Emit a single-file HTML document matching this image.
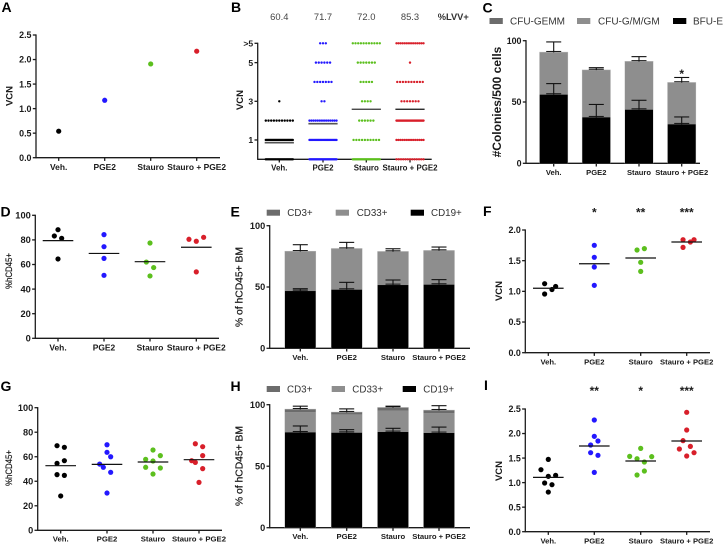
<!DOCTYPE html>
<html lang="en">
<head>
<meta charset="utf-8">
<title>Multi-panel VCN and engraftment figure</title>
<style>
html,body{margin:0;padding:0;background:#fff;width:724px;height:545px;overflow:hidden}
svg{display:block;font-family:"Liberation Sans",sans-serif;filter:blur(0.35px)}
</style>
</head>
<body>
<svg id="figure" xmlns="http://www.w3.org/2000/svg" width="724" height="545" viewBox="0 0 724 545"></svg>
<script>
const categories = ['Veh.', 'PGE2', 'Stauro', 'Stauro + PGE2'];
const groupColors = ['#000000', '#2318ff', '#5cbf1e', '#d81f2a'];

const aTicks = [0, 0.5, 1, 1.5, 2, 2.5];
const aTickLabels = ['0.0', '0.5', '1.0', '1.5', '2.0', '2.5'];
const aValues = [0.54, 1.17, 1.91, 2.17];

const bLevels = [0, 1, 2, 3, 4, 5, 6];
const bTicks = [1, 3, 5, 6];
const bTickLabels = ['1', '3', '5', '>5'];
const bCounts = [
  [25, 30, 11, 1, 0, 0, 0],
  [30, 25, 14, 2, 7, 6, 3],
  [28, 10, 6, 4, 5, 7, 11],
  [13, 14, 30, 7, 10, 1, 14]
];
const bMeans = [0.86, 1.84, 2.59, 2.59];
const bHeader = ['60.4', '71.7', '72.0', '85.3'];

const cTicks = [0, 50, 100];
const cSeriesNames = ['CFU-GEMM', 'CFU-G/M/GM', 'BFU-E'];
const cBottom = [56, 37.5, 43.7, 31.8];
const cMiddle = [34.5, 38.5, 39.3, 34];
const cTop = [0, 0, 0, 0];
const cErrBottom = [9, 10.5, 7.7, 6];
const cErrTotal = [8.5, 2, 4, 4.2];

const dTicks = [0, 20, 40, 60, 80, 100];
const dValues = [[88.3, 83.2, 81.3, 64.5], [84.3, 74.5, 65, 51.2], [77.5, 62, 57.5, 50.7], [80.5, 78.9, 82.1, 54]];
const dSlots = [[0, -1, 1, 0], [0, 0, 0, 0], [0, -1, 1, 0], [-2, 0, 2, 0]];
const dMeans = [79.4, 69, 62.3, 74];

const eTicks = [0, 50, 100];
const eSeriesNames = ['CD3+', 'CD33+', 'CD19+'];
const eBottom = [46.7, 47.8, 51.6, 51.9];
const eMiddle = [32, 33, 27, 27.4];
const eTop = [0.3, 0.4, 0.2, 0.3];
const eErrBottom = [1.9, 6, 4.1, 4.1];
const eErrTotal = [5.5, 5.2, 2.4, 3];

const fTicks = [0, 0.5, 1, 1.5, 2];
const fTickLabels = ['0.0', '0.5', '1.0', '1.5', '2.0'];
const fValues = [[1.125, 1.03, 1.08, 0.957], [1.75, 1.555, 1.397, 1.098], [1.674, 1.696, 1.473, 1.326], [1.842, 1.717, 1.804, 1.842]];
const fSlots = [[-1, 1, 2, -1], [0, 0, 0, 0], [-1, 1, 0, 0], [-1, -1, 1, 2]];
const fMeans = [1.05, 1.45, 1.543, 1.804];
const fStars = ['', '*', '**', '***'];

const gTicks = [0, 20, 40, 60, 80, 100];
const gValues = [
  [69, 67.7, 54.6, 56.8, 45.4, 44.8, 28],
  [69.8, 63.6, 60, 54, 51.4, 47.3, 30.4],
  [65.5, 57.9, 60.9, 56.5, 51.4, 50.8, 45.9],
  [70.6, 68.2, 60.9, 56.8, 55.4, 50.3, 39.1]
];
const gSlots = [[-1, 1, -1, 1, -1, 1, 0], [0, 0, 1, -2, -1, 1, 0], [0, -2, 2, 0, -2, 2, 0], [-1, 1, 1, -2, -1, 1, 0]];
const gMeans = [52.7, 53.8, 55.7, 57.6];

const hTicks = [0, 50, 100];
const hBottom = [77.5, 77.2, 77.8, 77];
const hMiddle = [16.5, 14.9, 17.3, 16.2];
const hTop = [2.2, 1.7, 2.5, 2.2];
const hErrBottom = [5.2, 2.5, 3, 4.8];
const hErrTotal = [2.6, 2.8, 1.2, 3.8];

const iTicks = [0, 0.5, 1, 1.5, 2, 2.5];
const iTickLabels = ['0.0', '0.5', '1.0', '1.5', '2.0', '2.5'];
const iValues = [
  [1.474, 1.264, 1.128, 1.148, 0.992, 0.958, 0.808],
  [2.276, 1.943, 1.848, 1.766, 1.61, 1.556, 1.209],
  [1.698, 1.535, 1.488, 1.529, 1.42, 1.236, 1.155],
  [2.432, 2.072, 1.855, 1.739, 1.685, 1.61, 1.542]
];
const iSlots = [[0, -2, 0, 2, -1, 1, 0], [0, 0, 1, -1, -1, 1, 0], [0, -3, -1, 3, 1, 1, -1], [0, 0, -1, 1, -2, 2, 0]];
const iMeans = [1.107, 1.746, 1.44, 1.848];
const iStars = ['', '**', '*', '***'];

const svg = document.getElementById('figure');
const NS = 'http://www.w3.org/2000/svg';
const AXIS = '#1c1c1c';
const SHADES = ['#6c6c6c', '#8e8e8e', '#000000'];

function mk(tag, props, content) {
  const el = document.createElementNS(NS, tag);
  for (const k in props) el.setAttribute(k, props[k]);
  if (content !== undefined) el.textContent = content;
  svg.appendChild(el);
  return el;
}
function tag(el, name) {
  
  
  return el;
}
function ln(name, x1, y1, x2, y2, color, w) {
  return tag(mk('line', {x1: x1, y1: y1, x2: x2, y2: y2, stroke: color || AXIS, 'stroke-width': w || 1.3}), name);
}
function txt(name, x, y, s, size, opts) {
  const o = opts || {};
  const fill = o.fill || '#1a1a1a';
  const p = {x: x, y: y, 'font-size': size, fill: fill, 'text-anchor': o.anchor || 'middle', 'font-weight': o.weight || 'bold'};
  if (o.rotate) p.transform = 'rotate(-90 ' + x + ' ' + y + ')';
  if (o.medium) { p.stroke = fill; p['stroke-width'] = o.medium; }
  if (o.fit) { p.textLength = o.fit; p.lengthAdjust = 'spacingAndGlyphs'; }
  return tag(mk('text', p, s), name);
}
function linear(d0, d1, r0, r1) {
  return v => r0 + (v - d0) / (d1 - d0) * (r1 - r0);
}
function axes(id, g) {
  const y = linear(g.dMin, g.dMax, g.y0, g.y1);
  ln(id + '-y-axis', g.x0, g.y1 - 0.6, g.x0, g.y0 + 0.6);
  ln(id + '-x-axis', g.x0, g.y0, g.xEnd, g.y0);
  g.ticks.forEach((t, i) => {
    ln(id + '-y-tick', g.x0 - 3.2, y(t), g.x0, y(t));
    const label = g.tickLabels ? g.tickLabels[i] : String(t);
    txt(id + '-y-tick-label', g.x0 - 4.5, y(t) + 3.2, label, g.tickSize || 9, {anchor: 'end'});
  });
  categories.forEach((c, i) => {
    ln(id + '-x-tick', g.cats[i], g.y0, g.cats[i], g.y0 + 3.2);
    txt(id + '-x-tick-label', g.cats[i], g.y0 + g.labelDy, c, g.labelSize);
  });
  return y;
}
function dots(id, g, values, slots, means, stars) {
  const y = axes(id, g);
  values.forEach((series, i) => {
    series.forEach((v, j) => {
      tag(mk('circle', {cx: g.cats[i] + slots[i][j] * 3.67, cy: y(v), r: 2.6, fill: groupColors[i]}), id + '-point');
    });
    ln(id + '-mean-line', g.cats[i] - 15.3, y(means[i]), g.cats[i] + 15.3, y(means[i]), '#111', 1.2);
    if (stars && stars[i]) txt(id + '-significance', g.cats[i], g.starY, stars[i], 12);
  });
}
function stacked(id, g, bottom, middle, top, errBottom, errTotal) {
  const y = axes(id, g);
  const hw = g.barW / 2;
  categories.forEach((c, i) => {
    const x = g.cats[i];
    const a = bottom[i], b = a + middle[i], t = b + top[i];
    tag(mk('rect', {x: x - hw - 0.4, y: y(t) - 0.5, width: g.barW + 0.8, height: y(0) - y(t) + 0.5, fill: '#c0c0c0'}), id + '-bar-outline');
    if (top[i] > 0) tag(mk('rect', {x: x - hw, y: y(t), width: g.barW, height: y(b) - y(t), fill: SHADES[0]}), id + '-bar-top-segment');
    tag(mk('rect', {x: x - hw, y: y(b), width: g.barW, height: y(a) - y(b), fill: SHADES[1]}), id + '-bar-middle-segment');
    tag(mk('rect', {x: x - hw, y: y(a), width: g.barW, height: y(0) - y(a), fill: SHADES[2]}), id + '-bar-bottom-segment');
    [[a, errBottom[i]], [t, errTotal[i]]].forEach(pair => {
      const base = pair[0], e = base + pair[1];
      ln(id + '-error-stem', x, y(base), x, y(e), '#111', 1.1);
      ln(id + '-error-cap', x - 7.5, y(e), x + 7.5, y(e), '#111', 1.1);
      ln(id + '-error-cap-lower', x - 7.5, y(base) - 0.9, x + 7.5, y(base) - 0.9, '#111', 1);
    });
  });
}
function legend(id, y, names, swatches, texts, size) {
  names.forEach((n, i) => {
    tag(mk('rect', {x: swatches[i], y: y - 3, width: 13.3, height: 6, fill: SHADES[i]}), id + '-legend-swatch');
    txt(id + '-legend-label', texts[i], y + size * 0.36, n, size, {anchor: 'start', weight: 'normal', fill: '#333'});
  });
}
function letter(s, x, y) {
  txt('panel-letter-' + s.toLowerCase(), x, y, s, 14, {anchor: 'start', fill: '#000'});
}

/* Panel A */
letter('A', 1.5, 12);
const aGeom = {x0: 36, y0: 157.7, y1: 35, xEnd: 220, dMin: 0, dMax: 2.5, ticks: aTicks, tickLabels: aTickLabels, cats: [58.7, 104.7, 150.7, 196.7], labelDy: 12.4, labelSize: 8.45, tickSize: 8.9};
const aY = axes('a', aGeom);
aValues.forEach((v, i) => {
  tag(mk('circle', {cx: aGeom.cats[i], cy: aY(v), r: 2.6, fill: groupColors[i]}), 'a-point');
});
txt('a-y-axis-title', 12.3, 96, 'VCN', 9.5, {rotate: true});

/* Panel B */
letter('B', 231, 12);
const bGeom = {x0: 257.7, y0: 159.3, y1: 43.3, xEnd: 431.7, dMin: 0, dMax: 6, ticks: bTicks, tickLabels: bTickLabels, cats: [279.3, 323, 366.3, 410], labelDy: 11.4, labelSize: 7.9, tickSize: 8.6};
const bY = axes('b', bGeom);
bCounts.forEach((row, i) => {
  row.forEach((n, k) => {
    const step = n > 1 ? Math.min(2.83, 27 / (n - 1)) : 0;
    for (let j = 0; j < n; j++) {
      const cx = bGeom.cats[i] + (j - (n - 1) / 2) * step;
      tag(mk('circle', {cx: cx, cy: bY(bLevels[k]), r: 1.2, fill: groupColors[i]}), 'b-point');
    }
  });
  const w = i < 2 ? 1.6 : 1.2;
  const col = i < 2 ? '#555' : (i === 2 ? '#333' : '#111');
  ln('b-mean-line', bGeom.cats[i] - 14.6, bY(bMeans[i]), bGeom.cats[i] + 14.6, bY(bMeans[i]), col, w);
  txt('b-lvv-value', bGeom.cats[i], 19.8, bHeader[i], 9.4, {weight: 'normal', fill: '#444'});
});
txt('b-lvv-header', 437.7, 20, '%LVV+', 9.3, {anchor: 'start', fill: '#333'});
txt('b-y-axis-title', 243, 100, 'VCN', 9.5, {rotate: true});

/* Panel C */
letter('C', 482.5, 12.5);
legend('c', 21, cSeriesNames, [489.5, 577, 673], [510, 598, 693], 10);
const cGeom = {x0: 526, y0: 163.3, y1: 40.7, xEnd: 700, dMin: 0, dMax: 100, ticks: cTicks, cats: [553.7, 596.3, 639, 681.7], labelDy: 11.7, labelSize: 7.6, barW: 28, tickSize: 8.9};
stacked('c', cGeom, cBottom, cMiddle, cTop, cErrBottom, cErrTotal);
txt('c-significance', 681.7, 78, '*', 12);
txt('c-y-axis-title', 501, 102, '#Colonies/500 cells', 12, {rotate: true});

/* Panel D */
letter('D', 0.5, 216.7);
dots('d', {x0: 35.3, y0: 338.3, y1: 215.3, xEnd: 219, dMin: 0, dMax: 100, ticks: dTicks, tickSize: 9.3, cats: [58, 104, 150, 196.3], labelDy: 12.4, labelSize: 8.45}, dValues, dSlots, dMeans);
txt('d-y-axis-title', 12, 271, '%hCD45+', 9.4, {rotate: true, weight: 'normal', medium: 0.2, fit: 36});

/* Panel E */
letter('E', 230.5, 216.7);
legend('e', 212.7, eSeriesNames, [266.7, 335.7, 410.7], [287.3, 356.7, 431], 9.8);
const barCats = [300.3, 346.7, 393, 439];
stacked('e', {x0: 269.7, y0: 348.3, y1: 225.7, xEnd: 470, dMin: 0, dMax: 100, ticks: eTicks, cats: barCats, labelDy: 11.7, labelSize: 7.7, barW: 30.7, tickSize: 9.2}, eBottom, eMiddle, eTop, eErrBottom, eErrTotal);
txt('e-y-axis-title', 242.5, 287, '% of hCD45+ BM', 10.3, {rotate: true, weight: 'normal', medium: 0.25, fit: 80});

/* Panel F */
letter('F', 483, 216);
dots('f', {x0: 525.3, y0: 352.7, y1: 230, xEnd: 710, dMin: 0, dMax: 2, ticks: fTicks, tickLabels: fTickLabels, tickSize: 8.9, cats: [548.3, 594.3, 640.7, 686.7], labelDy: 11.6, labelSize: 7.65, starY: 216.5}, fValues, fSlots, fMeans, fStars);
txt('f-y-axis-title', 502, 291, 'VCN', 9.5, {rotate: true});

/* Panel G */
letter('G', 0.5, 391);
dots('g', {x0: 37.7, y0: 530.3, y1: 407.7, xEnd: 222, dMin: 0, dMax: 100, ticks: gTicks, tickSize: 9.2, cats: [60.7, 107, 153, 199], labelDy: 11.4, labelSize: 7.75}, gValues, gSlots, gMeans);
txt('g-y-axis-title', 12, 468, '%hCD45+', 9.4, {rotate: true, weight: 'normal', medium: 0.2, fit: 36});

/* Panel H */
letter('H', 230.5, 391);
legend('h', 389, eSeriesNames, [266.7, 331.7, 402.7], [287, 352.3, 423.3], 9.8);
stacked('h', {x0: 269.7, y0: 527.7, y1: 404.7, xEnd: 470, dMin: 0, dMax: 100, ticks: hTicks, cats: barCats, labelDy: 11.3, labelSize: 7.7, barW: 30.7, tickSize: 9.2}, hBottom, hMiddle, hTop, hErrBottom, hErrTotal);
txt('h-y-axis-title', 242.5, 466, '% of hCD45+ BM', 10.3, {rotate: true, weight: 'normal', medium: 0.25, fit: 80});

/* Panel I */
letter('I', 484, 390);
dots('i', {x0: 525.3, y0: 531.7, y1: 409, xEnd: 710, dMin: 0, dMax: 2.5, ticks: iTicks, tickLabels: iTickLabels, tickSize: 8.9, cats: [548.3, 594.3, 640.7, 686.7], labelDy: 11.6, labelSize: 7.65, starY: 395}, iValues, iSlots, iMeans, iStars);
txt('i-y-axis-title', 502, 471, 'VCN', 9.5, {rotate: true});
</script>
</body>
</html>
